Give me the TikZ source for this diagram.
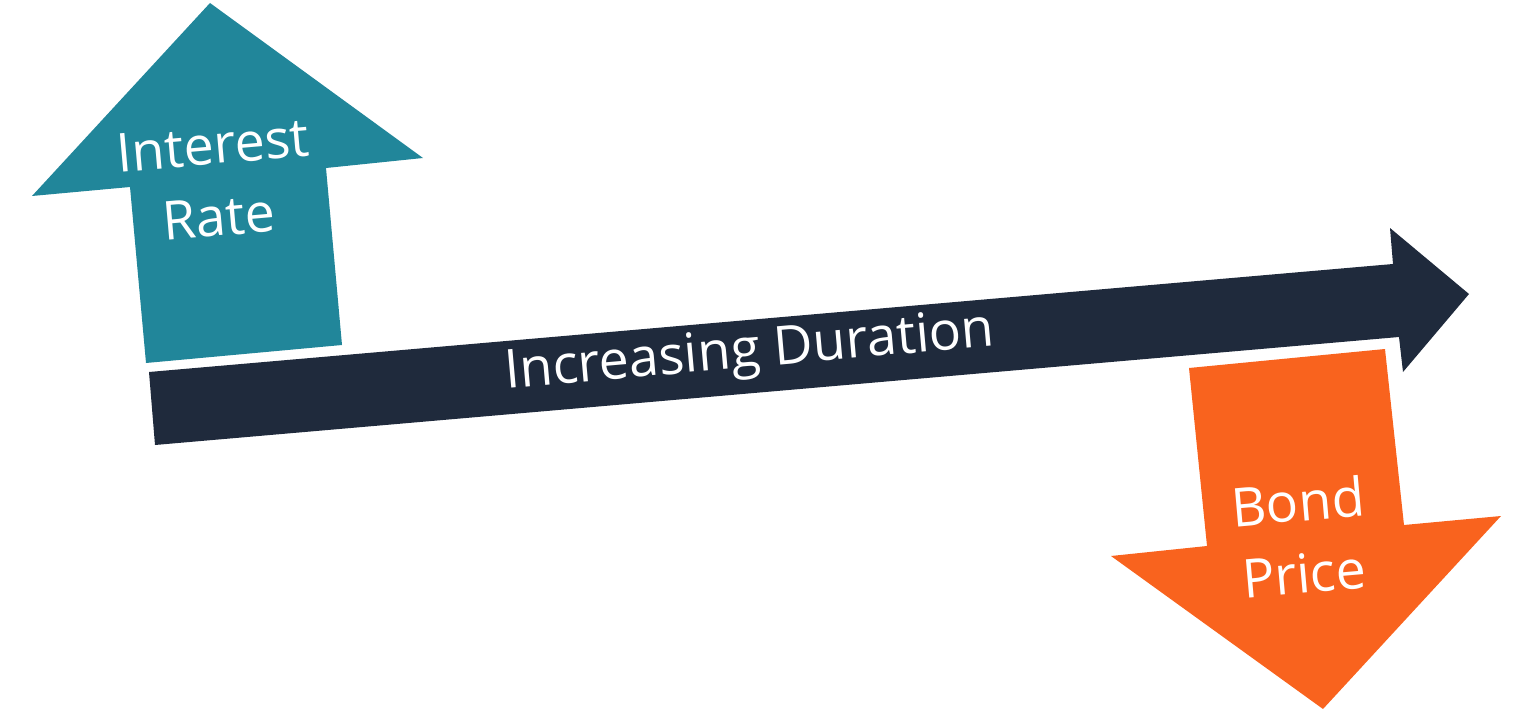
\documentclass[tikz,border=0pt]{standalone}
\usepackage{fontspec}
\setmainfont{Open Sans}
\begin{document}
\begin{tikzpicture}[x=0.02cm,y=-0.02cm,
    every node/.style={text=white,font=\fontsize{30.6}{41}\selectfont,align=center,rotate=5}]
  \definecolor{rategreen}{HTML}{21869A}
  \definecolor{durationblue}{HTML}{1F2A3C}
  \definecolor{priceorange}{HTML}{F9631E}
  \useasboundingbox (0,0) rectangle (1519,713);
  % interest rate goes up
  \fill[rategreen] (210,3) -- (423,158) -- (326,168) -- (342,345) -- (146,363)
    -- (130,187) -- (32,196) -- cycle;
  % duration
  \fill[durationblue] (149,372) -- (1393,264) -- (1390,228) -- (1469,294)
    -- (1403,372) -- (1399,337) -- (155,445) -- cycle;
  % bond price goes down
  \fill[priceorange] (1189,368) -- (1385,349) -- (1404,525) -- (1501,516)
    -- (1323,709) -- (1111,556) -- (1207,546) -- cycle;
  \node (rate) at (216,181) {Interest\\Rate};
  \node (duration) at (750,354) {Increasing Duration};
  \node (price) at (1301,537) {Bond\\Price};
\end{tikzpicture}
\end{document}
